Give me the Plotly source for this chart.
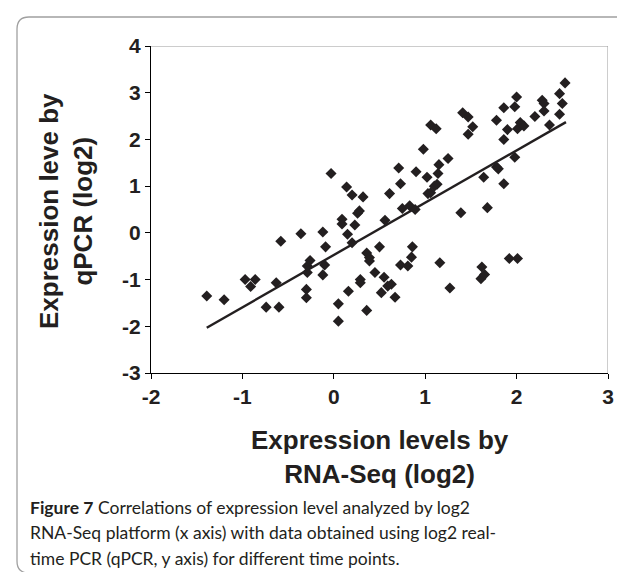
import plotly.graph_objects as go

# ---- data ----
rna_seq_x = [-1.39, -1.20, -0.97, -0.91, -0.86, -0.74, -0.63, -0.60, -0.58, -0.36,
             -0.30, -0.30, -0.29, -0.29, -0.26, -0.12, -0.12, -0.10, -0.09, -0.03,
             0.05, 0.05, 0.09, 0.09, 0.14, 0.15, 0.16, 0.20, 0.20, 0.23,
             0.26, 0.28, 0.29, 0.29, 0.32, 0.36, 0.36, 0.39, 0.39, 0.45,
             0.50, 0.52, 0.55, 0.56, 0.59, 0.63, 0.61, 0.67, 0.71, 0.73,
             0.73, 0.75, 0.83, 0.81, 0.85, 0.86, 0.89, 0.90, 0.98, 1.02,
             1.03, 1.06, 1.06, 1.10, 1.12, 1.13, 1.14, 1.15, 1.16, 1.25,
             1.27, 1.39, 1.41, 1.47, 1.47, 1.52, 1.61, 1.62, 1.65, 1.64,
             1.68, 1.78, 1.78, 1.80, 1.86, 1.86, 1.86, 1.90, 1.92, 1.98,
             2.00, 1.98, 2.01, 2.01, 2.04, 2.08, 2.20, 2.28, 2.30, 2.30,
             2.36, 2.47, 2.50, 2.47, 2.53]
qpcr_y = [-1.35, -1.43, -1.00, -1.15, -1.00, -1.59, -1.07, -1.59, -0.18, -0.02,
          -1.21, -1.39, -0.85, -0.71, -0.59, 0.02, -0.90, -0.69, -0.30, 1.27,
          -1.52, -1.89, 0.19, 0.29, 0.98, -0.03, -1.25, 0.81, -0.21, 0.17,
          0.42, 0.47, -1.00, -1.07, 0.77, -0.43, -1.66, -0.53, -0.60, -0.85,
          -0.30, -1.28, -0.95, 0.27, -1.14, -1.10, 0.84, -1.38, 1.39, -0.69,
          1.05, 0.52, 0.58, -0.71, -0.52, -0.30, 0.50, 1.31, 1.79, 1.19,
          0.84, 0.86, 2.31, 1.00, 2.23, 1.04, 1.27, 1.46, -0.64, 1.59,
          -1.18, 0.43, 2.57, 2.48, 2.11, 2.27, -0.98, -0.73, -0.89, 1.19,
          0.54, 2.41, 1.41, 1.37, 2.68, 2.00, 1.05, 2.21, -0.55, 2.70,
          2.91, 1.62, -0.55, 2.23, 2.36, 2.29, 2.49, 2.84, 2.77, 2.61,
          2.31, 2.98, 2.77, 2.54, 3.21]

fit_x = [-1.39, 2.54]
fit_y = [-2.03, 2.37]

x_ticks = [-2, -1, 0, 1, 2, 3]
y_ticks = [-3, -2, -1, 0, 1, 2, 3, 4]

x_title = "Expression levels by<br>RNA-Seq (log2)"
y_title = "Expression leve by<br>qPCR (log2)"
caption_lines = [
    "<b>Figure 7</b> Correlations of expression level analyzed by log2",
    "RNA-Seq platform (x axis) with data obtained using log2 real-",
    "time PCR (qPCR, y axis) for different time points.",
]

# ---- layout geometry (pixels) ----
W, H = 625, 572
ML, MR, MT, MB = 143, 25, 38, 207
PW, PH = W - ML - MR, H - MT - MB


def px(xpix):
    return (xpix - ML) / PW


def py(ypix):
    return (H - MB - ypix) / PH


INK = "#231f20"
AXFONT = "Liberation Sans, Arial, sans-serif"
CAPFONT = "Lato, Open Sans, sans-serif"

fig = go.Figure()
fig.add_trace(go.Scatter(x=fit_x, y=fit_y, mode="lines",
                         line=dict(color=INK, width=2.4), hoverinfo="skip",
                         showlegend=False))
fig.add_trace(go.Scatter(x=rna_seq_x, y=qpcr_y, mode="markers",
                         marker=dict(symbol="diamond", size=8.5, color=INK,
                                     line=dict(width=0)),
                         showlegend=False))

axis_common = dict(showgrid=False, zeroline=False, showline=True,
                   linecolor="black", linewidth=1, ticks="outside",
                   ticklen=5, tickwidth=1, tickcolor="black",
                   tickfont=dict(family=AXFONT, size=21, color=INK))
fig.update_xaxes(range=[-2, 3], tickvals=x_ticks,
                 ticktext=[f"<b>{v}</b>" for v in x_ticks], **axis_common)
fig.update_yaxes(range=[-3, 4], tickvals=y_ticks,
                 ticktext=[f"<b>{v}</b>" for v in y_ticks], **axis_common)

shapes = [
    dict(type="line", xref="x", yref="y", x0=-2, x1=3, y0=4, y1=4,
         line=dict(color="#9a9a9a", width=1)),
    dict(type="line", xref="x", yref="y", x0=3, x1=3, y0=-3, y1=4,
         line=dict(color="#9a9a9a", width=1)),
]
# rounded outer frame
L, T, B, R = 9, 9, 565, 660
rx, ry = 12 / PW, 12 / PH
path = (f"M {px(R)},{py(T)} L {px(L)+rx},{py(T)} "
        f"Q {px(L)},{py(T)} {px(L)},{py(T)-ry} "
        f"L {px(L)},{py(B)+ry} Q {px(L)},{py(B)} {px(L)+rx},{py(B)} "
        f"L {px(R)},{py(B)}")
shapes.append(dict(type="path", xref="paper", yref="paper", path=path,
                   line=dict(color="#a0a0a0", width=1.3)))

annotations = [
    dict(text=f"<b>{x_title}</b>", xref="paper", yref="paper",
         x=px(372), y=py(415), xanchor="center", yanchor="top",
         showarrow=False, align="center",
         font=dict(family=AXFONT, size=26, color=INK)),
    dict(text=f"<b>{y_title}</b>", xref="paper", yref="paper",
         x=px(58), y=py(203), xanchor="center", yanchor="middle",
         textangle=-90, showarrow=False, align="center",
         font=dict(family=AXFONT, size=26, color=INK)),
]
for i, line in enumerate(caption_lines):
    annotations.append(
        dict(text=line, xref="paper", yref="paper",
             x=px(20), y=py(499 + 25.5 * i), xanchor="left", yanchor="middle",
             showarrow=False, align="left",
             font=dict(family=CAPFONT, size=17.5, color=INK)))

fig.update_layout(width=W, height=H, margin=dict(l=ML, r=MR, t=MT, b=MB),
                  plot_bgcolor="white", paper_bgcolor="white",
                  shapes=shapes, annotations=annotations, showlegend=False)

fig.write_html("out.html")
